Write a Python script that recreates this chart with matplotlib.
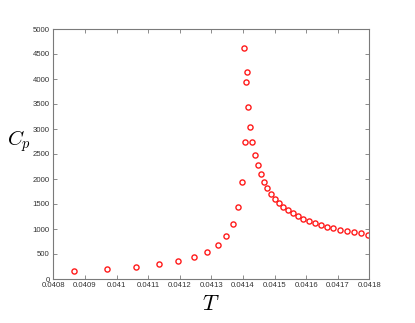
import matplotlib
matplotlib.use("Agg")
import matplotlib.pyplot as plt
import numpy as np

# ---- data ----
T = [0.0408655, 0.0409709, 0.0410608, 0.0411345, 0.0411956, 0.0412459,
     0.0412873, 0.0413206, 0.0413472, 0.0413680, 0.0413851, 0.0413972,
     0.0414066, 0.0414044, 0.0414130, 0.0414108, 0.0414161, 0.0414225,
     0.0414297, 0.0414373, 0.0414468, 0.0414563, 0.0414658, 0.0414772,
     0.0414889, 0.0415016, 0.0415152, 0.0415278, 0.0415437, 0.0415585,
     0.0415753, 0.0415911, 0.0416101, 0.0416282, 0.0416462, 0.0416661,
     0.0416861, 0.0417073, 0.0417285, 0.0417506, 0.0417737, 0.0417968]
Cp = [166, 200, 246, 293, 360, 442,
      547, 680, 860, 1105, 1447, 1947,
      2745, 4613, 4147, 3947, 3440, 3047,
      2740, 2487, 2273, 2093, 1947, 1813,
      1707, 1607, 1527, 1447, 1373, 1313,
      1253, 1207, 1167, 1127, 1087, 1047,
      1013, 987, 967, 933, 913, 887]

XTicks = [0.0408, 0.0409, 0.041, 0.0411, 0.0412, 0.0413,
          0.0414, 0.0415, 0.0416, 0.0417, 0.0418]
YTicks = [0, 500, 1000, 1500, 2000, 2500, 3000, 3500, 4000, 4500, 5000]

AxisColour = "#7a7a7a"
LabelColour = "#333333"

plt.rcParams['mathtext.fontset'] = 'cm'

fig = plt.figure(figsize=(4.15, 3.23), dpi=100)
ax = fig.add_axes([53.3 / 415, 44 / 323, 316 / 415, 250 / 323])

ax.plot(T, Cp, linestyle='none', marker='o', markersize=3.7,
        markerfacecolor='none', markeredgecolor='#ff1a1a', markeredgewidth=1.0)

ax.set_xlim(0.0408, 0.0418)
ax.set_ylim(0, 5000)
ax.set_xticks(XTicks)
ax.set_xticklabels(["%g" % t for t in XTicks])
ax.set_yticks(YTicks)
ax.set_yticklabels([str(v) for v in YTicks])

for s in ax.spines.values():
    s.set_color(AxisColour)
    s.set_linewidth(0.8)
ax.tick_params(direction='in', length=3, width=0.6, color=AxisColour,
               labelsize=5.6, labelcolor=LabelColour,
               top=True, right=True, pad=2.5)
for lab in ax.get_xticklabels() + ax.get_yticklabels():
    lab.set_family('Liberation Sans')

ax.set_xlabel(r'$T$', fontsize=16, labelpad=3)
ax.set_ylabel(r'$C_p$', fontsize=15, rotation=0, va='center')
ax.yaxis.set_label_coords(-0.108, 0.55)

fig.savefig("out.png", dpi=100)
